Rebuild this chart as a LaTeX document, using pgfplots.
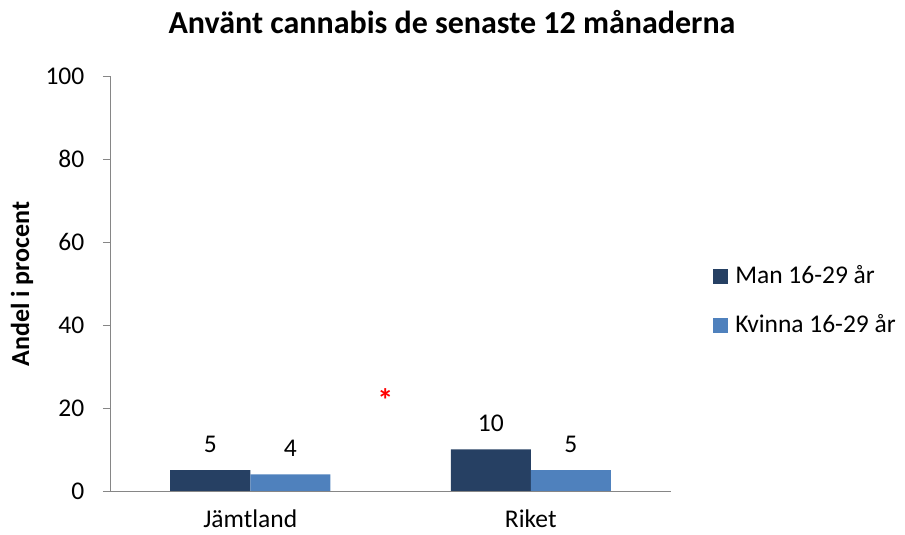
\documentclass[border=0pt]{standalone}
\usepackage{pgfplots}
\pgfplotsset{compat=1.18}
\usepackage{fontspec}
\setmainfont{Carlito}
\definecolor{dark}{HTML}{264063}
\definecolor{light}{HTML}{4F81BD}
\definecolor{axgray}{HTML}{868686}
\newcommand{\fs}{\fontsize{25.5}{30}\selectfont}
\begin{document}
\fs
\begin{tikzpicture}[x=1pt,y=1pt]
\path[use as bounding box] (-110,-44) rectangle (795,491);
\begin{axis}[
  at={(0,0)}, anchor=south west,
  scale only axis, width=561pt, height=415pt,
  ybar=0pt, bar width=80pt,
  xmin=-0.5, xmax=1.5, ymin=0, ymax=100,
  ytick={0,20,...,100},
  xtick=data, xticklabels={Jämtland,Riket},
  axis x line*=bottom, axis y line*=left,
  axis line style={-, axgray},
  ytick pos=left, tick align=outside,
  major tick length=7pt,
  ytick style={axgray},
  xtick style={draw=none},
  ticklabel style={font=\fs, black},
  /pgf/number format/assume math mode=true,
  xticklabel style={inner sep=0pt, yshift=-12pt},
  yticklabel style={xshift=-10pt},
  nodes near coords,
  every node near coord/.append style={font=\fs, black, yshift=9pt},
  legend style={draw=none, at={(1.075,0.548)}, anchor=north west, fill=none,
    font=\fs, row sep=23pt, inner sep=0pt,
    /tikz/every odd column/.append style={column sep=5pt}},
  legend cell align=left,
  legend image code/.code={\fill[#1,draw=none] (0pt,-7.5pt) rectangle (15pt,7.5pt);},
]
\addplot[fill=dark, draw=none] coordinates {(0,5) (1,10)};
\addplot[fill=light, draw=none] coordinates {(0,4) (1,5)};
\legend{Man 16-29 år, Kvinna 16-29 år}
\node[text=red, font=\fontsize{32}{36}\selectfont\bfseries] at (axis cs:0.482,22) {*};
\end{axis}
\node[font=\fontsize{32}{37}\selectfont\bfseries] at (342,469) {Använt cannabis de senaste 12 månaderna};
\node[rotate=90, font=\fontsize{26}{31}\selectfont\bfseries] at (-88,207) {Andel i procent};
\end{tikzpicture}
\end{document}
